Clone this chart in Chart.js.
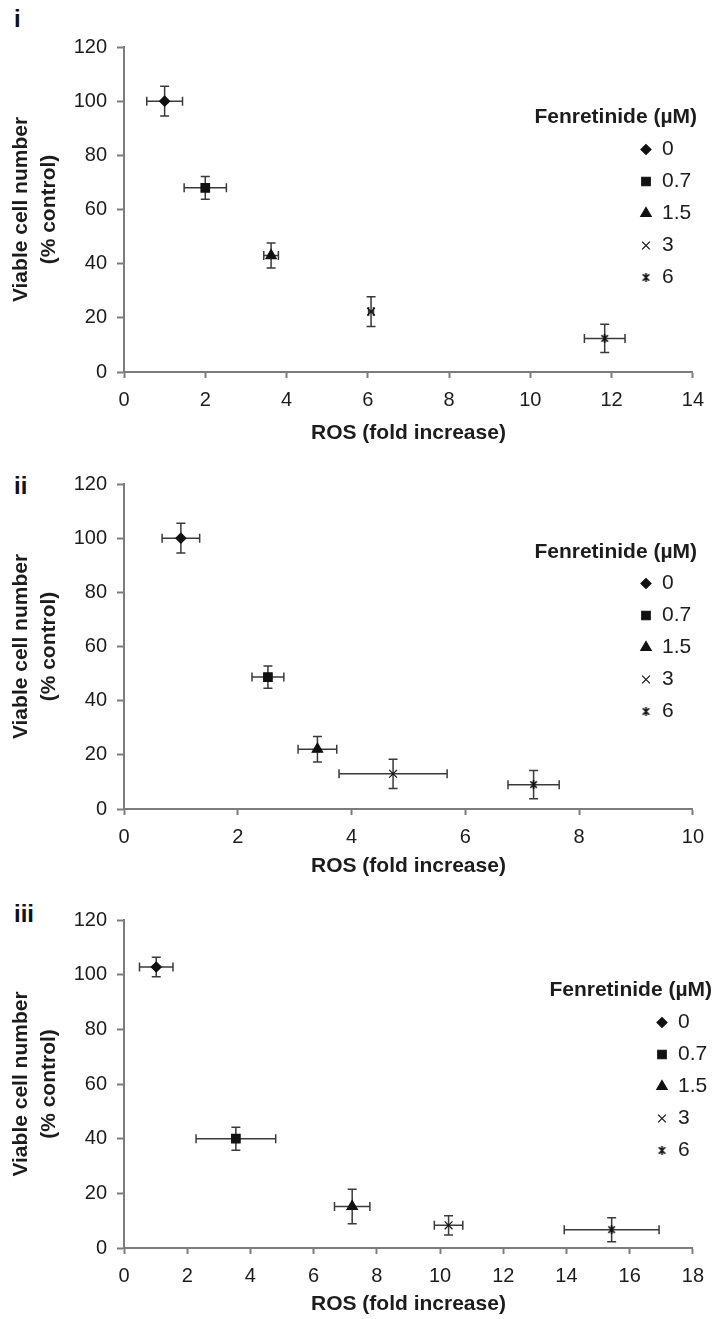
<!DOCTYPE html>
<html>
<head>
<meta charset="utf-8">
<script src="https://cdn.jsdelivr.net/npm/chart.js@4.4.1/dist/chart.umd.min.js"></script>
<style>
  html, body { margin: 0; padding: 0; background: #fff; }
  body { width: 714px; height: 1319px; position: relative; overflow: hidden;
         font-family: "Liberation Sans", Arial, sans-serif; }
  canvas { position: absolute; left: 0; }
  .tag { position: absolute; left: 14px; font-weight: bold; font-size: 24px;
         line-height: 24px; color: #111; }
</style>
</head>
<body>
<div class="tag" id="tag1" style="top:7px"></div>
<div class="tag" id="tag2" style="top:474px"></div>
<div class="tag" id="tag3" style="top:902px"></div>
<canvas id="c1" width="714" height="450" style="top:0px"></canvas>
<canvas id="c2" width="714" height="430" style="top:450px"></canvas>
<canvas id="c3" width="714" height="439" style="top:880px"></canvas>
<script>
// ---- data ----
const doses = ['0', '0.7', '1.5', '3', '6'];

// panel i
const ros1       = [1.0, 2.0, 3.62, 6.08, 11.83];
const ros1Err    = [0.44, 0.52, 0.18, 0.06, 0.5];
const viable1    = [100, 68, 43, 22.3, 12.4];
const viable1Err = [5.5, 4.2, 4.6, 5.5, 5.2];
const xTicks1    = [0, 2, 4, 6, 8, 10, 12, 14];

// panel ii
const ros2       = [1.0, 2.53, 3.4, 4.73, 7.2];
const ros2Err    = [0.33, 0.28, 0.34, 0.95, 0.45];
const viable2    = [100, 48.7, 22.1, 13, 9];
const viable2Err = [5.5, 4.1, 4.7, 5.4, 5.2];
const xTicks2    = [0, 2, 4, 6, 8, 10];

// panel iii
const ros3       = [1.02, 3.54, 7.22, 10.27, 15.43];
const ros3Err    = [0.53, 1.26, 0.56, 0.45, 1.5];
const viable3    = [102.8, 40, 15.2, 8.3, 6.7];
const viable3Err = [3.6, 4.2, 6.3, 3.5, 4.4];
const xTicks3    = [0, 2, 4, 6, 8, 10, 12, 14, 16, 18];

const yTicks      = [0, 20, 40, 60, 80, 100, 120];
const panelTags   = ['i', 'ii', 'iii'];
const xTitle      = 'ROS (fold increase)';
const yTitle      = ['Viable cell number', '(% control)'];
const legendTitle = 'Fenretinide (µM)';

// ---- styling ----
const INK = '#1c1c1c';
const AXIS = '#7c7c7c';
const MARK = '#111';
const FONT = '"Liberation Sans", Arial, Helvetica, sans-serif';
Chart.defaults.font.family = FONT;

// asterisk-like marker: an X crossed by a vertical stroke
function asteriskMark(size) {
  const c = document.createElement('canvas');
  c.width = c.height = size;
  const g = c.getContext('2d');
  const h = size / 2, r = size / 2 - 1, d = r * 0.72;
  g.strokeStyle = MARK;
  g.lineWidth = 1.7;
  g.beginPath();
  g.moveTo(h - d, h - d); g.lineTo(h + d, h + d);
  g.moveTo(h + d, h - d); g.lineTo(h - d, h + d);
  g.moveTo(h, h - r); g.lineTo(h, h + r);
  g.stroke();
  return c;
}
const markStyles = ['rectRot', 'rect', 'triangle', 'crossRot', asteriskMark(11)];
const markRadius = [5, 6, 6, 5.5, 5.5];

// error bars in both directions, drawn beneath the markers
const errorBars = {
  id: 'errorBars',
  beforeDatasetsDraw(chart, args, o) {
    const { ctx } = chart;
    const xs = chart.scales.x, ys = chart.scales.y;
    ctx.save();
    ctx.strokeStyle = o.color;
    ctx.lineWidth = o.width;
    chart.data.datasets.forEach(ds => {
      ds.data.forEach(p => {
        const px = xs.getPixelForValue(p.x), py = ys.getPixelForValue(p.y);
        const xl = xs.getPixelForValue(p.x - p.xErr), xr = xs.getPixelForValue(p.x + p.xErr);
        const yt = ys.getPixelForValue(p.y + p.yErr), yb = ys.getPixelForValue(p.y - p.yErr);
        const c = o.cap;
        ctx.beginPath();
        ctx.moveTo(xl, py); ctx.lineTo(xr, py);
        ctx.moveTo(xl, py - c); ctx.lineTo(xl, py + c);
        ctx.moveTo(xr, py - c); ctx.lineTo(xr, py + c);
        ctx.moveTo(px, yt); ctx.lineTo(px, yb);
        ctx.moveTo(px - c, yt); ctx.lineTo(px + c, yt);
        ctx.moveTo(px - c, yb); ctx.lineTo(px + c, yb);
        ctx.stroke();
      });
    });
    ctx.restore();
  }
};

// dose legend placed inside the plot, built from the datasets
const doseLegend = {
  id: 'doseLegend',
  afterDraw(chart, args, o) {
    const ctx = chart.ctx;
    ctx.save();
    ctx.textBaseline = 'middle';
    ctx.fillStyle = INK;
    ctx.font = 'bold 21px ' + FONT;
    ctx.textAlign = 'right';
    ctx.fillText(o.text, o.titleRight, o.titleY);
    ctx.font = '21px ' + FONT;
    ctx.textAlign = 'left';
    chart.data.datasets.forEach((ds, i) => {
      const yy = o.firstY + i * o.step;
      ctx.fillStyle = ds.backgroundColor;
      ctx.strokeStyle = ds.borderColor;
      ctx.lineWidth = ds.borderWidth;
      Chart.helpers.drawPoint(ctx, {
        pointStyle: ds.pointStyle, radius: ds.pointRadius,
        borderWidth: ds.borderWidth, rotation: 0
      }, o.markX, yy);
      ctx.fillStyle = INK;
      ctx.fillText(ds.label, o.labelX, yy);
    });
    ctx.restore();
  }
};

function makePanel(id, ros, rosErr, viable, viableErr, xTicks, geo) {
  const datasets = doses.map((d, i) => ({
    label: d,
    data: [{ x: ros[i], y: viable[i], xErr: rosErr[i], yErr: viableErr[i] }],
    pointStyle: markStyles[i],
    pointRadius: markRadius[i],
    backgroundColor: MARK,
    borderColor: MARK,
    borderWidth: 1.2
  }));
  return new Chart(document.getElementById(id), {
    type: 'scatter',
    data: { datasets },
    plugins: [errorBars, doseLegend],
    options: {
      responsive: false,
      animation: false,
      events: [],
      layout: { padding: { top: geo.top, right: geo.right, left: 0, bottom: 0 } },
      plugins: {
        legend: { display: false },
        tooltip: { enabled: false },
        errorBars: { color: '#3a3a3a', width: 1.5, cap: 4.5 },
        doseLegend: Object.assign({ text: legendTitle }, geo.legend)
      },
      scales: {
        x: {
          type: 'linear',
          min: xTicks[0],
          max: xTicks[xTicks.length - 1],
          afterBuildTicks: s => { s.ticks = xTicks.map(v => ({ value: v })); },
          afterFit: s => { s.height = geo.xBand; },
          border: { display: true, color: AXIS, width: 2 },
          grid: { display: true, drawOnChartArea: false, drawTicks: true,
                  tickLength: 6, tickWidth: 2, tickColor: AXIS, color: AXIS },
          ticks: { color: INK, font: { size: 20 }, padding: 10,
                   maxRotation: 0, autoSkip: false },
          title: { display: true, text: xTitle, color: INK,
                   font: { size: 21, weight: 'bold' },
                   padding: { top: 0, bottom: geo.titlePad } }
        },
        y: {
          type: 'linear',
          min: yTicks[0],
          max: yTicks[yTicks.length - 1],
          afterBuildTicks: s => { s.ticks = yTicks.map(v => ({ value: v })); },
          afterFit: s => { s.width = 124; },
          border: { display: true, color: AXIS, width: 2 },
          grid: { display: true, drawOnChartArea: false, drawTicks: true,
                  tickLength: 7, tickWidth: 2, tickColor: AXIS, color: AXIS },
          ticks: { color: INK, font: { size: 20 }, padding: 10 },
          title: { display: true, text: yTitle, color: INK,
                   font: { size: 21, weight: 'bold', lineHeight: 1.35 },
                   padding: { top: 7, bottom: 0 } }
        }
      }
    }
  });
}

panelTags.forEach((t, i) => { document.getElementById('tag' + (i + 1)).textContent = t; });

makePanel('c1', ros1, ros1Err, viable1, viable1Err, xTicks1, {
  top: 47, right: 20, xBand: 78, titlePad: 4,
  legend: { titleRight: 697, titleY: 117, markX: 646, labelX: 662, firstY: 149.5, step: 32 }
});
makePanel('c2', ros2, ros2Err, viable2, viable2Err, xTicks2, {
  top: 34, right: 21, xBand: 71, titlePad: 1,
  legend: { titleRight: 697, titleY: 102, markX: 646, labelX: 662, firstY: 133.5, step: 32 }
});
makePanel('c3', ros3, ros3Err, viable3, viable3Err, xTicks3, {
  top: 40, right: 16, xBand: 71, titlePad: 2,
  legend: { titleRight: 712, titleY: 110, markX: 662, labelX: 678, firstY: 142.5, step: 32 }
});
</script>
</body>
</html>
